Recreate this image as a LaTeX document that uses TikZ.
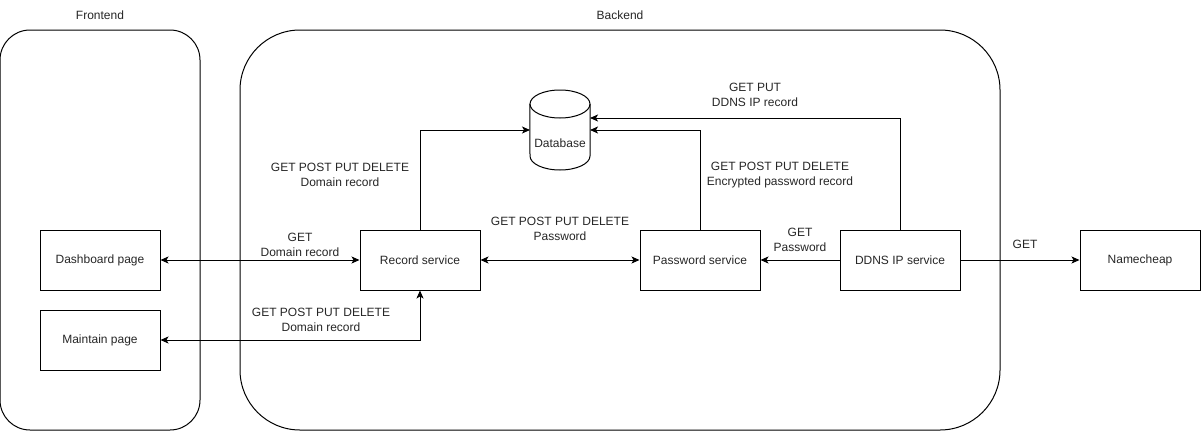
\documentclass[tikz,border=0pt]{standalone}
\usepackage{fontspec}
\setmainfont{Liberation Sans}
\usetikzlibrary{arrows.meta}
\begin{document}
\begin{tikzpicture}[x=1pt,y=-1pt,
  every node/.style={font=\fontsize{12}{14.5}\selectfont, text=black!85},
  box/.style={draw, line width=1pt, minimum width=120pt, minimum height=60pt, inner sep=0pt},
  container/.style={draw, line width=1pt, inner sep=0pt},
  lbl/.style={align=center, inner sep=1pt},
  conn/.style={line width=1pt, -{Stealth[length=8pt,width=7pt,inset=2pt]}},
  biconn/.style={line width=1pt, {Stealth[length=8pt,width=7pt,inset=2pt]}-{Stealth[length=8pt,width=7pt,inset=2pt]}}
]
\useasboundingbox (0,0) rectangle (1201,431);
% containers
\node[container, rounded corners=30pt, minimum width=200pt, minimum height=400pt] (fe) at (100,230) {};
\node[container, rounded corners=60pt, minimum width=760pt, minimum height=400pt] (be) at (620,230) {};
\node (felbl) at (100,15) {Frontend};
\node (belbl) at (620,15) {Backend};
% boxes
\node[box] (dash) at (100,260) {Dashboard page};
\node[box] (maint) at (100,340) {Maintain page};
\node[box] (rec) at (420,260) {Record service};
\node[box] (pwd) at (700,260) {Password service};
\node[box] (ddns) at (900,260) {DDNS IP service};
\node[box] (nc) at (1140,260) {Namecheap};
% database
\node[minimum width=60pt, minimum height=80pt, inner sep=0pt] (db) at (560,130) {};
\draw[line width=1pt] (db.north west) ++(0,14) -- (530,156) arc[start angle=180, end angle=360, x radius=30pt, y radius=14pt] -- (590,104);
\draw[line width=1pt] (560,104) ellipse[x radius=30pt, y radius=14pt];
\node (dbl) at (560,143) {Database};
% connectors
\coordinate (dbin1) at (530,130);
\coordinate (dbin2) at (590,130);
\coordinate (dbin3) at (590,118);
\draw[biconn] (dash.east) -- (rec.west);
\draw[biconn] (maint.east) -| (rec.south);
\draw[conn] (rec.north) |- (dbin1);
\draw[biconn] (rec.east) -- (pwd.west);
\draw[conn] (pwd.north) |- (dbin2);
\draw[conn] (ddns.north) |- (dbin3);
\draw[conn] (ddns.west) -- (pwd.east);
\draw[conn] (ddns.east) -- (nc.west);
% labels
\node[lbl] (l1) at (300,245) {GET\\Domain record};
\node[lbl] (l2) at (321,320) {GET POST PUT DELETE\\Domain record};
\node[lbl] (l3) at (340,175) {GET POST PUT DELETE\\Domain record};
\node[lbl] (l4) at (560,229) {GET POST PUT DELETE\\Password};
\node[lbl] (l5) at (780,175) {GET POST PUT DELETE\\Encrypted password record};
\node[lbl] (l6) at (755,95) {GET PUT\\DDNS IP record};
\node[lbl] (l7) at (800,240) {GET\\Password};
\node[lbl] (l8) at (1025,244) {GET};
\end{tikzpicture}
\end{document}
